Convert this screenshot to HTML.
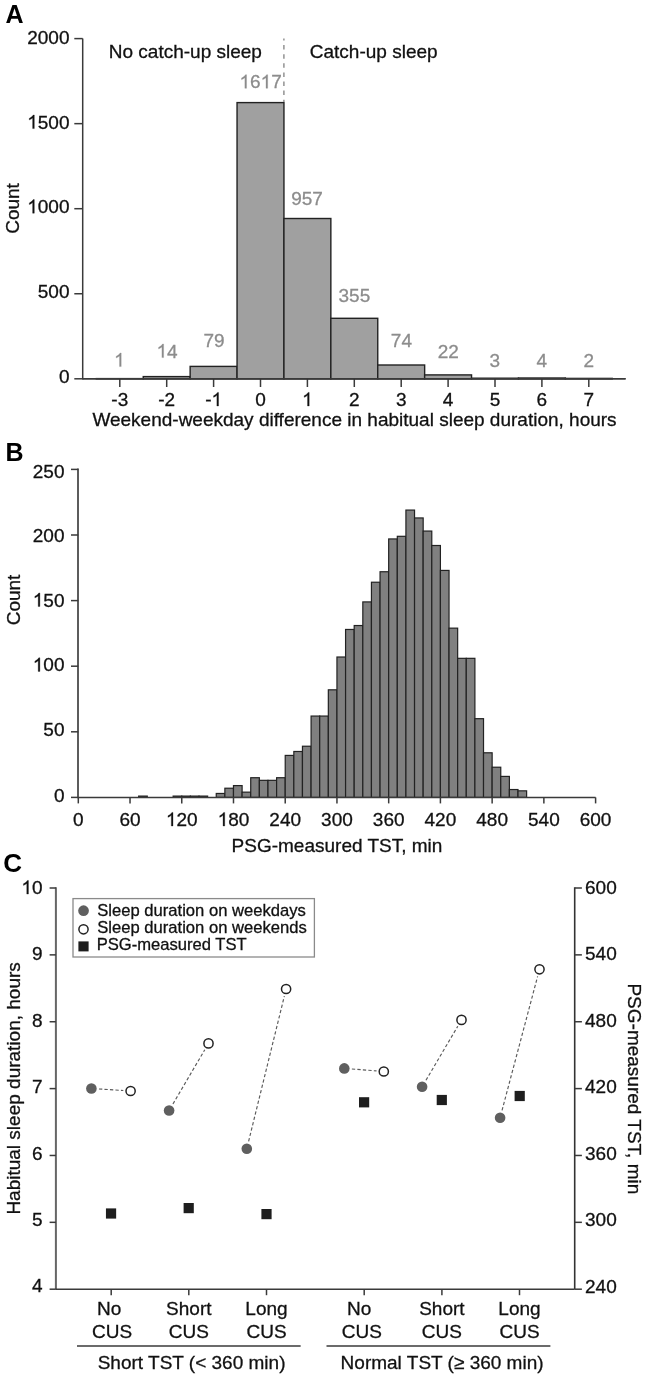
<!DOCTYPE html>
<html><head><meta charset="utf-8"><style>
html,body{margin:0;padding:0;background:#fff;}
body{width:645px;height:1378px;overflow:hidden;}
svg{display:block;font-family:"Liberation Sans", sans-serif;filter:grayscale(1);}
</style></head><body>
<svg width="645" height="1378" viewBox="0 0 645 1378">
<rect x="0" y="0" width="645" height="1378" fill="#fff"/>
<text x="5.50" y="23.00" font-size="25" text-anchor="start" fill="#000" font-weight="bold" >A</text>
<line x1="82.70" y1="38.60" x2="82.70" y2="379.55" stroke="#3a3a3a" stroke-width="1.5" />
<line x1="74.30" y1="378.80" x2="82.70" y2="378.80" stroke="#3a3a3a" stroke-width="1.5" />
<text x="69.50" y="382.65" font-size="19" text-anchor="end" fill="#111" font-weight="normal" stroke="#111" stroke-width="0.3" >0</text>
<line x1="74.30" y1="293.75" x2="82.70" y2="293.75" stroke="#3a3a3a" stroke-width="1.5" />
<text x="69.50" y="297.80" font-size="19" text-anchor="end" fill="#111" font-weight="normal" stroke="#111" stroke-width="0.3" >500</text>
<line x1="74.30" y1="208.70" x2="82.70" y2="208.70" stroke="#3a3a3a" stroke-width="1.5" />
<path transform="translate(27.23 213.20) scale(0.00928 -0.00928)" d="M763 0L583 0L583 1147Q518 1085 412 1023Q307 961 223 930L223 1104Q374 1175 487 1276Q600 1377 647 1466L763 1466Z" fill="#111" stroke="#111" stroke-width="32.3"/>
<text x="69.50" y="213.20" font-size="19" text-anchor="end" fill="#111" font-weight="normal" stroke="#111" stroke-width="0.3" > 000</text>
<line x1="74.30" y1="123.65" x2="82.70" y2="123.65" stroke="#3a3a3a" stroke-width="1.5" />
<path transform="translate(27.23 128.60) scale(0.00928 -0.00928)" d="M763 0L583 0L583 1147Q518 1085 412 1023Q307 961 223 930L223 1104Q374 1175 487 1276Q600 1377 647 1466L763 1466Z" fill="#111" stroke="#111" stroke-width="32.3"/>
<text x="69.50" y="128.60" font-size="19" text-anchor="end" fill="#111" font-weight="normal" stroke="#111" stroke-width="0.3" > 500</text>
<line x1="74.30" y1="38.60" x2="82.70" y2="38.60" stroke="#3a3a3a" stroke-width="1.5" />
<text x="69.50" y="43.70" font-size="19" text-anchor="end" fill="#111" font-weight="normal" stroke="#111" stroke-width="0.3" >2000</text>
<line x1="82.70" y1="378.80" x2="625.60" y2="378.80" stroke="#3a3a3a" stroke-width="1.5" />
<line x1="119.80" y1="378.80" x2="119.80" y2="387.00" stroke="#3a3a3a" stroke-width="1.5" />
<text x="119.80" y="406.00" font-size="19" text-anchor="middle" fill="#111" font-weight="normal" stroke="#111" stroke-width="0.3" >-3</text>
<line x1="166.70" y1="378.80" x2="166.70" y2="387.00" stroke="#3a3a3a" stroke-width="1.5" />
<text x="166.70" y="406.00" font-size="19" text-anchor="middle" fill="#111" font-weight="normal" stroke="#111" stroke-width="0.3" >-2</text>
<line x1="213.60" y1="378.80" x2="213.60" y2="387.00" stroke="#3a3a3a" stroke-width="1.5" />
<path transform="translate(211.48 406.00) scale(0.00928 -0.00928)" d="M763 0L583 0L583 1147Q518 1085 412 1023Q307 961 223 930L223 1104Q374 1175 487 1276Q600 1377 647 1466L763 1466Z" fill="#111" stroke="#111" stroke-width="32.3"/>
<text x="213.60" y="406.00" font-size="19" text-anchor="middle" fill="#111" font-weight="normal" stroke="#111" stroke-width="0.3" >- </text>
<line x1="260.50" y1="378.80" x2="260.50" y2="387.00" stroke="#3a3a3a" stroke-width="1.5" />
<text x="260.50" y="406.00" font-size="19" text-anchor="middle" fill="#111" font-weight="normal" stroke="#111" stroke-width="0.3" >0</text>
<line x1="307.40" y1="378.80" x2="307.40" y2="387.00" stroke="#3a3a3a" stroke-width="1.5" />
<path transform="translate(302.12 406.00) scale(0.00928 -0.00928)" d="M763 0L583 0L583 1147Q518 1085 412 1023Q307 961 223 930L223 1104Q374 1175 487 1276Q600 1377 647 1466L763 1466Z" fill="#111" stroke="#111" stroke-width="32.3"/>
<text x="307.40" y="406.00" font-size="19" text-anchor="middle" fill="#111" font-weight="normal" stroke="#111" stroke-width="0.3" > </text>
<line x1="354.30" y1="378.80" x2="354.30" y2="387.00" stroke="#3a3a3a" stroke-width="1.5" />
<text x="354.30" y="406.00" font-size="19" text-anchor="middle" fill="#111" font-weight="normal" stroke="#111" stroke-width="0.3" >2</text>
<line x1="401.20" y1="378.80" x2="401.20" y2="387.00" stroke="#3a3a3a" stroke-width="1.5" />
<text x="401.20" y="406.00" font-size="19" text-anchor="middle" fill="#111" font-weight="normal" stroke="#111" stroke-width="0.3" >3</text>
<line x1="448.10" y1="378.80" x2="448.10" y2="387.00" stroke="#3a3a3a" stroke-width="1.5" />
<text x="448.10" y="406.00" font-size="19" text-anchor="middle" fill="#111" font-weight="normal" stroke="#111" stroke-width="0.3" >4</text>
<line x1="495.00" y1="378.80" x2="495.00" y2="387.00" stroke="#3a3a3a" stroke-width="1.5" />
<text x="495.00" y="406.00" font-size="19" text-anchor="middle" fill="#111" font-weight="normal" stroke="#111" stroke-width="0.3" >5</text>
<line x1="541.90" y1="378.80" x2="541.90" y2="387.00" stroke="#3a3a3a" stroke-width="1.5" />
<text x="541.90" y="406.00" font-size="19" text-anchor="middle" fill="#111" font-weight="normal" stroke="#111" stroke-width="0.3" >6</text>
<line x1="588.80" y1="378.80" x2="588.80" y2="387.00" stroke="#3a3a3a" stroke-width="1.5" />
<text x="588.80" y="406.00" font-size="19" text-anchor="middle" fill="#111" font-weight="normal" stroke="#111" stroke-width="0.3" >7</text>
<text x="354.50" y="426.00" font-size="19" text-anchor="middle" fill="#111" font-weight="normal" stroke="#111" stroke-width="0.3" >Weekend-weekday difference in habitual sleep duration, hours</text>
<text x="0.00" y="0.00" font-size="19" text-anchor="middle" fill="#111" font-weight="normal" stroke="#111" stroke-width="0.3" transform="translate(19.2 208.5) rotate(-90)">Count</text>
<rect x="96.35" y="378.60" width="46.90" height="0.20" fill="#a0a0a0" stroke="#222" stroke-width="1.4"/>
<rect x="143.25" y="376.60" width="46.90" height="2.20" fill="#a0a0a0" stroke="#222" stroke-width="1.4"/>
<rect x="190.15" y="366.40" width="46.90" height="12.40" fill="#a0a0a0" stroke="#222" stroke-width="1.4"/>
<rect x="237.05" y="102.60" width="46.90" height="276.20" fill="#a0a0a0" stroke="#222" stroke-width="1.4"/>
<rect x="283.95" y="218.50" width="46.90" height="160.30" fill="#a0a0a0" stroke="#222" stroke-width="1.4"/>
<rect x="330.85" y="318.30" width="46.90" height="60.50" fill="#a0a0a0" stroke="#222" stroke-width="1.4"/>
<rect x="377.75" y="365.00" width="46.90" height="13.80" fill="#a0a0a0" stroke="#222" stroke-width="1.4"/>
<rect x="424.65" y="374.90" width="46.90" height="3.90" fill="#a0a0a0" stroke="#222" stroke-width="1.4"/>
<rect x="471.55" y="378.20" width="46.90" height="0.60" fill="#a0a0a0" stroke="#222" stroke-width="1.4"/>
<rect x="518.45" y="378.00" width="46.90" height="0.80" fill="#a0a0a0" stroke="#222" stroke-width="1.4"/>
<rect x="565.35" y="378.40" width="46.90" height="0.40" fill="#a0a0a0" stroke="#222" stroke-width="1.4"/>
<line x1="82.70" y1="378.80" x2="625.60" y2="378.80" stroke="#3a3a3a" stroke-width="1.5" />
<line x1="283.90" y1="38.50" x2="283.90" y2="102.00" stroke="#8a8a8a" stroke-width="1.4" stroke-dasharray="4.5 4.6" stroke-dashoffset="2.5"/>
<path transform="translate(114.12 366.60) scale(0.00928 -0.00928)" d="M763 0L583 0L583 1147Q518 1085 412 1023Q307 961 223 930L223 1104Q374 1175 487 1276Q600 1377 647 1466L763 1466Z" fill="#8c8c8c" stroke="#8c8c8c" stroke-width="32.3"/>
<text x="119.40" y="366.60" font-size="19" text-anchor="middle" fill="#8c8c8c" font-weight="normal" stroke="#8c8c8c" stroke-width="0.3" > </text>
<path transform="translate(156.53 357.60) scale(0.00928 -0.00928)" d="M763 0L583 0L583 1147Q518 1085 412 1023Q307 961 223 930L223 1104Q374 1175 487 1276Q600 1377 647 1466L763 1466Z" fill="#8c8c8c" stroke="#8c8c8c" stroke-width="32.3"/>
<text x="167.10" y="357.60" font-size="19" text-anchor="middle" fill="#8c8c8c" font-weight="normal" stroke="#8c8c8c" stroke-width="0.3" > 4</text>
<text x="214.00" y="346.80" font-size="19" text-anchor="middle" fill="#8c8c8c" font-weight="normal" stroke="#8c8c8c" stroke-width="0.3" >79</text>
<path transform="translate(239.47 88.30) scale(0.00928 -0.00928)" d="M763 0L583 0L583 1147Q518 1085 412 1023Q307 961 223 930L223 1104Q374 1175 487 1276Q600 1377 647 1466L763 1466Z" fill="#8c8c8c" stroke="#8c8c8c" stroke-width="32.3"/>
<path transform="translate(260.60 88.30) scale(0.00928 -0.00928)" d="M763 0L583 0L583 1147Q518 1085 412 1023Q307 961 223 930L223 1104Q374 1175 487 1276Q600 1377 647 1466L763 1466Z" fill="#8c8c8c" stroke="#8c8c8c" stroke-width="32.3"/>
<text x="260.60" y="88.30" font-size="19" text-anchor="middle" fill="#8c8c8c" font-weight="normal" stroke="#8c8c8c" stroke-width="0.3" > 6 7</text>
<text x="307.00" y="204.80" font-size="19" text-anchor="middle" fill="#8c8c8c" font-weight="normal" stroke="#8c8c8c" stroke-width="0.3" >957</text>
<text x="354.40" y="302.10" font-size="19" text-anchor="middle" fill="#8c8c8c" font-weight="normal" stroke="#8c8c8c" stroke-width="0.3" >355</text>
<text x="401.40" y="347.10" font-size="19" text-anchor="middle" fill="#8c8c8c" font-weight="normal" stroke="#8c8c8c" stroke-width="0.3" >74</text>
<text x="448.20" y="357.60" font-size="19" text-anchor="middle" fill="#8c8c8c" font-weight="normal" stroke="#8c8c8c" stroke-width="0.3" >22</text>
<text x="494.90" y="366.50" font-size="19" text-anchor="middle" fill="#8c8c8c" font-weight="normal" stroke="#8c8c8c" stroke-width="0.3" >3</text>
<text x="541.90" y="366.80" font-size="19" text-anchor="middle" fill="#8c8c8c" font-weight="normal" stroke="#8c8c8c" stroke-width="0.3" >4</text>
<text x="588.80" y="366.80" font-size="19" text-anchor="middle" fill="#8c8c8c" font-weight="normal" stroke="#8c8c8c" stroke-width="0.3" >2</text>
<text x="108.80" y="58.30" font-size="19" text-anchor="start" fill="#111" font-weight="normal" stroke="#111" stroke-width="0.3" >No catch-up sleep</text>
<text x="309.80" y="58.30" font-size="19" text-anchor="start" fill="#111" font-weight="normal" stroke="#111" stroke-width="0.3" >Catch-up sleep</text>
<text x="5.50" y="461.00" font-size="25" text-anchor="start" fill="#000" font-weight="bold" >B</text>
<rect x="138.65" y="796.09" width="8.62" height="1.31" fill="#808080" stroke="#222" stroke-width="1.2"/>
<rect x="173.14" y="796.09" width="8.62" height="1.31" fill="#808080" stroke="#222" stroke-width="1.2"/>
<rect x="181.76" y="796.09" width="8.62" height="1.31" fill="#808080" stroke="#222" stroke-width="1.2"/>
<rect x="190.38" y="796.09" width="8.62" height="1.31" fill="#808080" stroke="#222" stroke-width="1.2"/>
<rect x="199.00" y="796.09" width="8.62" height="1.31" fill="#808080" stroke="#222" stroke-width="1.2"/>
<rect x="216.25" y="793.46" width="8.62" height="3.94" fill="#808080" stroke="#222" stroke-width="1.2"/>
<rect x="224.87" y="788.22" width="8.62" height="9.18" fill="#808080" stroke="#222" stroke-width="1.2"/>
<rect x="233.49" y="785.59" width="8.62" height="11.81" fill="#808080" stroke="#222" stroke-width="1.2"/>
<rect x="242.11" y="792.15" width="8.62" height="5.25" fill="#808080" stroke="#222" stroke-width="1.2"/>
<rect x="250.73" y="777.72" width="8.62" height="19.68" fill="#808080" stroke="#222" stroke-width="1.2"/>
<rect x="259.36" y="780.34" width="8.62" height="17.06" fill="#808080" stroke="#222" stroke-width="1.2"/>
<rect x="267.98" y="780.34" width="8.62" height="17.06" fill="#808080" stroke="#222" stroke-width="1.2"/>
<rect x="276.60" y="777.72" width="8.62" height="19.68" fill="#808080" stroke="#222" stroke-width="1.2"/>
<rect x="285.22" y="755.42" width="8.62" height="41.98" fill="#808080" stroke="#222" stroke-width="1.2"/>
<rect x="293.84" y="751.48" width="8.62" height="45.92" fill="#808080" stroke="#222" stroke-width="1.2"/>
<rect x="302.46" y="746.23" width="8.62" height="51.17" fill="#808080" stroke="#222" stroke-width="1.2"/>
<rect x="311.09" y="716.06" width="8.62" height="81.34" fill="#808080" stroke="#222" stroke-width="1.2"/>
<rect x="319.71" y="716.06" width="8.62" height="81.34" fill="#808080" stroke="#222" stroke-width="1.2"/>
<rect x="328.33" y="689.82" width="8.62" height="107.58" fill="#808080" stroke="#222" stroke-width="1.2"/>
<rect x="336.95" y="657.02" width="8.62" height="140.38" fill="#808080" stroke="#222" stroke-width="1.2"/>
<rect x="345.57" y="629.46" width="8.62" height="167.94" fill="#808080" stroke="#222" stroke-width="1.2"/>
<rect x="354.19" y="625.53" width="8.62" height="171.87" fill="#808080" stroke="#222" stroke-width="1.2"/>
<rect x="362.82" y="601.91" width="8.62" height="195.49" fill="#808080" stroke="#222" stroke-width="1.2"/>
<rect x="371.44" y="582.23" width="8.62" height="215.17" fill="#808080" stroke="#222" stroke-width="1.2"/>
<rect x="380.06" y="571.74" width="8.62" height="225.66" fill="#808080" stroke="#222" stroke-width="1.2"/>
<rect x="388.68" y="538.94" width="8.62" height="258.46" fill="#808080" stroke="#222" stroke-width="1.2"/>
<rect x="397.30" y="536.31" width="8.62" height="261.09" fill="#808080" stroke="#222" stroke-width="1.2"/>
<rect x="405.92" y="510.07" width="8.62" height="287.33" fill="#808080" stroke="#222" stroke-width="1.2"/>
<rect x="414.55" y="517.94" width="8.62" height="279.46" fill="#808080" stroke="#222" stroke-width="1.2"/>
<rect x="423.17" y="531.06" width="8.62" height="266.34" fill="#808080" stroke="#222" stroke-width="1.2"/>
<rect x="431.79" y="545.50" width="8.62" height="251.90" fill="#808080" stroke="#222" stroke-width="1.2"/>
<rect x="440.41" y="570.42" width="8.62" height="226.98" fill="#808080" stroke="#222" stroke-width="1.2"/>
<rect x="449.03" y="628.15" width="8.62" height="169.25" fill="#808080" stroke="#222" stroke-width="1.2"/>
<rect x="457.65" y="658.33" width="8.62" height="139.07" fill="#808080" stroke="#222" stroke-width="1.2"/>
<rect x="466.28" y="658.33" width="8.62" height="139.07" fill="#808080" stroke="#222" stroke-width="1.2"/>
<rect x="474.90" y="718.68" width="8.62" height="78.72" fill="#808080" stroke="#222" stroke-width="1.2"/>
<rect x="483.52" y="752.79" width="8.62" height="44.61" fill="#808080" stroke="#222" stroke-width="1.2"/>
<rect x="492.14" y="767.22" width="8.62" height="30.18" fill="#808080" stroke="#222" stroke-width="1.2"/>
<rect x="500.76" y="776.41" width="8.62" height="20.99" fill="#808080" stroke="#222" stroke-width="1.2"/>
<rect x="509.38" y="789.53" width="8.62" height="7.87" fill="#808080" stroke="#222" stroke-width="1.2"/>
<rect x="518.00" y="790.84" width="8.62" height="6.56" fill="#808080" stroke="#222" stroke-width="1.2"/>
<line x1="78.00" y1="468.60" x2="78.00" y2="798.15" stroke="#5c5c5c" stroke-width="2.0" />
<line x1="71.00" y1="797.40" x2="78.30" y2="797.40" stroke="#3a3a3a" stroke-width="1.5" />
<text x="64.50" y="801.70" font-size="19" text-anchor="end" fill="#111" font-weight="normal" stroke="#111" stroke-width="0.3" >0</text>
<line x1="71.00" y1="731.80" x2="78.30" y2="731.80" stroke="#3a3a3a" stroke-width="1.5" />
<text x="64.50" y="736.40" font-size="19" text-anchor="end" fill="#111" font-weight="normal" stroke="#111" stroke-width="0.3" >50</text>
<line x1="71.00" y1="666.20" x2="78.30" y2="666.20" stroke="#3a3a3a" stroke-width="1.5" />
<path transform="translate(32.80 671.40) scale(0.00928 -0.00928)" d="M763 0L583 0L583 1147Q518 1085 412 1023Q307 961 223 930L223 1104Q374 1175 487 1276Q600 1377 647 1466L763 1466Z" fill="#111" stroke="#111" stroke-width="32.3"/>
<text x="64.50" y="671.40" font-size="19" text-anchor="end" fill="#111" font-weight="normal" stroke="#111" stroke-width="0.3" > 00</text>
<line x1="71.00" y1="600.60" x2="78.30" y2="600.60" stroke="#3a3a3a" stroke-width="1.5" />
<path transform="translate(32.80 606.55) scale(0.00928 -0.00928)" d="M763 0L583 0L583 1147Q518 1085 412 1023Q307 961 223 930L223 1104Q374 1175 487 1276Q600 1377 647 1466L763 1466Z" fill="#111" stroke="#111" stroke-width="32.3"/>
<text x="64.50" y="606.55" font-size="19" text-anchor="end" fill="#111" font-weight="normal" stroke="#111" stroke-width="0.3" > 50</text>
<line x1="71.00" y1="535.00" x2="78.30" y2="535.00" stroke="#3a3a3a" stroke-width="1.5" />
<text x="64.50" y="542.40" font-size="19" text-anchor="end" fill="#111" font-weight="normal" stroke="#111" stroke-width="0.3" >200</text>
<line x1="71.00" y1="469.40" x2="78.30" y2="469.40" stroke="#3a3a3a" stroke-width="1.5" />
<text x="64.50" y="477.55" font-size="19" text-anchor="end" fill="#111" font-weight="normal" stroke="#111" stroke-width="0.3" >250</text>
<line x1="78.30" y1="797.40" x2="595.60" y2="797.40" stroke="#3a3a3a" stroke-width="1.5" />
<line x1="78.30" y1="797.40" x2="78.30" y2="803.40" stroke="#3a3a3a" stroke-width="1.5" />
<text x="78.30" y="826.00" font-size="19" text-anchor="middle" fill="#111" font-weight="normal" stroke="#111" stroke-width="0.3" >0</text>
<line x1="130.03" y1="797.40" x2="130.03" y2="803.40" stroke="#3a3a3a" stroke-width="1.5" />
<text x="130.03" y="826.00" font-size="19" text-anchor="middle" fill="#111" font-weight="normal" stroke="#111" stroke-width="0.3" >60</text>
<line x1="181.76" y1="797.40" x2="181.76" y2="803.40" stroke="#3a3a3a" stroke-width="1.5" />
<path transform="translate(165.91 826.00) scale(0.00928 -0.00928)" d="M763 0L583 0L583 1147Q518 1085 412 1023Q307 961 223 930L223 1104Q374 1175 487 1276Q600 1377 647 1466L763 1466Z" fill="#111" stroke="#111" stroke-width="32.3"/>
<text x="181.76" y="826.00" font-size="19" text-anchor="middle" fill="#111" font-weight="normal" stroke="#111" stroke-width="0.3" > 20</text>
<line x1="233.49" y1="797.40" x2="233.49" y2="803.40" stroke="#3a3a3a" stroke-width="1.5" />
<path transform="translate(217.64 826.00) scale(0.00928 -0.00928)" d="M763 0L583 0L583 1147Q518 1085 412 1023Q307 961 223 930L223 1104Q374 1175 487 1276Q600 1377 647 1466L763 1466Z" fill="#111" stroke="#111" stroke-width="32.3"/>
<text x="233.49" y="826.00" font-size="19" text-anchor="middle" fill="#111" font-weight="normal" stroke="#111" stroke-width="0.3" > 80</text>
<line x1="285.22" y1="797.40" x2="285.22" y2="803.40" stroke="#3a3a3a" stroke-width="1.5" />
<text x="285.22" y="826.00" font-size="19" text-anchor="middle" fill="#111" font-weight="normal" stroke="#111" stroke-width="0.3" >240</text>
<line x1="336.95" y1="797.40" x2="336.95" y2="803.40" stroke="#3a3a3a" stroke-width="1.5" />
<text x="336.95" y="826.00" font-size="19" text-anchor="middle" fill="#111" font-weight="normal" stroke="#111" stroke-width="0.3" >300</text>
<line x1="388.68" y1="797.40" x2="388.68" y2="803.40" stroke="#3a3a3a" stroke-width="1.5" />
<text x="388.68" y="826.00" font-size="19" text-anchor="middle" fill="#111" font-weight="normal" stroke="#111" stroke-width="0.3" >360</text>
<line x1="440.41" y1="797.40" x2="440.41" y2="803.40" stroke="#3a3a3a" stroke-width="1.5" />
<text x="440.41" y="826.00" font-size="19" text-anchor="middle" fill="#111" font-weight="normal" stroke="#111" stroke-width="0.3" >420</text>
<line x1="492.14" y1="797.40" x2="492.14" y2="803.40" stroke="#3a3a3a" stroke-width="1.5" />
<text x="492.14" y="826.00" font-size="19" text-anchor="middle" fill="#111" font-weight="normal" stroke="#111" stroke-width="0.3" >480</text>
<line x1="543.87" y1="797.40" x2="543.87" y2="803.40" stroke="#3a3a3a" stroke-width="1.5" />
<text x="543.87" y="826.00" font-size="19" text-anchor="middle" fill="#111" font-weight="normal" stroke="#111" stroke-width="0.3" >540</text>
<line x1="595.60" y1="797.40" x2="595.60" y2="803.40" stroke="#3a3a3a" stroke-width="1.5" />
<text x="595.60" y="826.00" font-size="19" text-anchor="middle" fill="#111" font-weight="normal" stroke="#111" stroke-width="0.3" >600</text>
<text x="337.00" y="852.10" font-size="19" text-anchor="middle" fill="#111" font-weight="normal" stroke="#111" stroke-width="0.3" >PSG-measured TST, min</text>
<text x="0.00" y="0.00" font-size="19" text-anchor="middle" fill="#111" font-weight="normal" stroke="#111" stroke-width="0.3" transform="translate(20.2 600) rotate(-90)">Count</text>
<text x="3.30" y="872.10" font-size="26" text-anchor="start" fill="#000" font-weight="bold" >C</text>
<line x1="55.90" y1="887.30" x2="55.90" y2="1289.20" stroke="#666" stroke-width="2.0" />
<line x1="574.70" y1="887.30" x2="574.70" y2="1289.20" stroke="#333" stroke-width="1.6" />
<line x1="55.90" y1="1289.20" x2="574.70" y2="1289.20" stroke="#3a3a3a" stroke-width="1.5" />
<line x1="49.60" y1="1289.20" x2="55.90" y2="1289.20" stroke="#3a3a3a" stroke-width="1.5" />
<text x="42.50" y="1292.45" font-size="19" text-anchor="end" fill="#111" font-weight="normal" stroke="#111" stroke-width="0.3" >4</text>
<line x1="49.60" y1="1222.33" x2="55.90" y2="1222.33" stroke="#3a3a3a" stroke-width="1.5" />
<text x="42.50" y="1226.05" font-size="19" text-anchor="end" fill="#111" font-weight="normal" stroke="#111" stroke-width="0.3" >5</text>
<line x1="49.60" y1="1155.47" x2="55.90" y2="1155.47" stroke="#3a3a3a" stroke-width="1.5" />
<text x="42.50" y="1159.65" font-size="19" text-anchor="end" fill="#111" font-weight="normal" stroke="#111" stroke-width="0.3" >6</text>
<line x1="49.60" y1="1088.60" x2="55.90" y2="1088.60" stroke="#3a3a3a" stroke-width="1.5" />
<text x="42.50" y="1093.25" font-size="19" text-anchor="end" fill="#111" font-weight="normal" stroke="#111" stroke-width="0.3" >7</text>
<line x1="49.60" y1="1021.73" x2="55.90" y2="1021.73" stroke="#3a3a3a" stroke-width="1.5" />
<text x="42.50" y="1026.85" font-size="19" text-anchor="end" fill="#111" font-weight="normal" stroke="#111" stroke-width="0.3" >8</text>
<line x1="49.60" y1="954.87" x2="55.90" y2="954.87" stroke="#3a3a3a" stroke-width="1.5" />
<text x="42.50" y="960.45" font-size="19" text-anchor="end" fill="#111" font-weight="normal" stroke="#111" stroke-width="0.3" >9</text>
<line x1="49.60" y1="888.00" x2="55.90" y2="888.00" stroke="#3a3a3a" stroke-width="1.5" />
<path transform="translate(21.37 894.05) scale(0.00928 -0.00928)" d="M763 0L583 0L583 1147Q518 1085 412 1023Q307 961 223 930L223 1104Q374 1175 487 1276Q600 1377 647 1466L763 1466Z" fill="#111" stroke="#111" stroke-width="32.3"/>
<text x="42.50" y="894.05" font-size="19" text-anchor="end" fill="#111" font-weight="normal" stroke="#111" stroke-width="0.3" > 0</text>
<line x1="574.70" y1="1289.20" x2="581.90" y2="1289.20" stroke="#3a3a3a" stroke-width="1.5" />
<text x="585.00" y="1292.71" font-size="19" text-anchor="start" fill="#111" font-weight="normal" stroke="#111" stroke-width="0.3" >240</text>
<line x1="574.70" y1="1222.33" x2="581.90" y2="1222.33" stroke="#3a3a3a" stroke-width="1.5" />
<text x="585.00" y="1226.25" font-size="19" text-anchor="start" fill="#111" font-weight="normal" stroke="#111" stroke-width="0.3" >300</text>
<line x1="574.70" y1="1155.47" x2="581.90" y2="1155.47" stroke="#3a3a3a" stroke-width="1.5" />
<text x="585.00" y="1159.79" font-size="19" text-anchor="start" fill="#111" font-weight="normal" stroke="#111" stroke-width="0.3" >360</text>
<line x1="574.70" y1="1088.60" x2="581.90" y2="1088.60" stroke="#3a3a3a" stroke-width="1.5" />
<text x="585.00" y="1093.33" font-size="19" text-anchor="start" fill="#111" font-weight="normal" stroke="#111" stroke-width="0.3" >420</text>
<line x1="574.70" y1="1021.73" x2="581.90" y2="1021.73" stroke="#3a3a3a" stroke-width="1.5" />
<text x="585.00" y="1026.87" font-size="19" text-anchor="start" fill="#111" font-weight="normal" stroke="#111" stroke-width="0.3" >480</text>
<line x1="574.70" y1="954.87" x2="581.90" y2="954.87" stroke="#3a3a3a" stroke-width="1.5" />
<text x="585.00" y="960.41" font-size="19" text-anchor="start" fill="#111" font-weight="normal" stroke="#111" stroke-width="0.3" >540</text>
<line x1="574.70" y1="888.00" x2="581.90" y2="888.00" stroke="#3a3a3a" stroke-width="1.5" />
<text x="585.00" y="893.95" font-size="19" text-anchor="start" fill="#111" font-weight="normal" stroke="#111" stroke-width="0.3" >600</text>
<text x="0.00" y="0.00" font-size="19" text-anchor="middle" fill="#111" font-weight="normal" stroke="#111" stroke-width="0.3" transform="translate(20.0 1088.4) rotate(-90)">Habitual sleep duration, hours</text>
<text x="0.00" y="0.00" font-size="19" text-anchor="middle" fill="#111" font-weight="normal" stroke="#111" stroke-width="0.3" transform="translate(627.8 1088.85) rotate(90)">PSG-measured TST, min</text>
<line x1="111.20" y1="1289.20" x2="111.20" y2="1295.20" stroke="#3a3a3a" stroke-width="1.5" />
<text x="109.20" y="1315.30" font-size="19" text-anchor="middle" fill="#111" font-weight="normal" stroke="#111" stroke-width="0.3" >No</text>
<text x="112.10" y="1337.70" font-size="19" text-anchor="middle" fill="#111" font-weight="normal" stroke="#111" stroke-width="0.3" >CUS</text>
<line x1="188.80" y1="1289.20" x2="188.80" y2="1295.20" stroke="#3a3a3a" stroke-width="1.5" />
<text x="188.80" y="1315.30" font-size="19" text-anchor="middle" fill="#111" font-weight="normal" stroke="#111" stroke-width="0.3" >Short</text>
<text x="188.80" y="1337.70" font-size="19" text-anchor="middle" fill="#111" font-weight="normal" stroke="#111" stroke-width="0.3" >CUS</text>
<line x1="266.50" y1="1289.20" x2="266.50" y2="1295.20" stroke="#3a3a3a" stroke-width="1.5" />
<text x="266.50" y="1315.30" font-size="19" text-anchor="middle" fill="#111" font-weight="normal" stroke="#111" stroke-width="0.3" >Long</text>
<text x="266.50" y="1337.70" font-size="19" text-anchor="middle" fill="#111" font-weight="normal" stroke="#111" stroke-width="0.3" >CUS</text>
<line x1="364.20" y1="1289.20" x2="364.20" y2="1295.20" stroke="#3a3a3a" stroke-width="1.5" />
<text x="359.10" y="1315.30" font-size="19" text-anchor="middle" fill="#111" font-weight="normal" stroke="#111" stroke-width="0.3" >No</text>
<text x="361.90" y="1337.70" font-size="19" text-anchor="middle" fill="#111" font-weight="normal" stroke="#111" stroke-width="0.3" >CUS</text>
<line x1="441.90" y1="1289.20" x2="441.90" y2="1295.20" stroke="#3a3a3a" stroke-width="1.5" />
<text x="441.90" y="1315.30" font-size="19" text-anchor="middle" fill="#111" font-weight="normal" stroke="#111" stroke-width="0.3" >Short</text>
<text x="441.90" y="1337.70" font-size="19" text-anchor="middle" fill="#111" font-weight="normal" stroke="#111" stroke-width="0.3" >CUS</text>
<line x1="519.50" y1="1289.20" x2="519.50" y2="1295.20" stroke="#3a3a3a" stroke-width="1.5" />
<text x="519.50" y="1315.30" font-size="19" text-anchor="middle" fill="#111" font-weight="normal" stroke="#111" stroke-width="0.3" >Long</text>
<text x="519.50" y="1337.70" font-size="19" text-anchor="middle" fill="#111" font-weight="normal" stroke="#111" stroke-width="0.3" >CUS</text>
<line x1="77.00" y1="1346.00" x2="300.65" y2="1346.00" stroke="#3a3a3a" stroke-width="1.5" />
<line x1="326.50" y1="1346.00" x2="550.40" y2="1346.00" stroke="#3a3a3a" stroke-width="1.5" />
<text x="191.60" y="1369.20" font-size="19" text-anchor="middle" fill="#111" font-weight="normal" stroke="#111" stroke-width="0.3" >Short TST (&lt; 360 min)</text>
<text x="442.10" y="1369.20" font-size="19" text-anchor="middle" fill="#111" font-weight="normal" stroke="#111" stroke-width="0.3" >Normal TST (≥ 360 min)</text>
<rect x="73.00" y="898.60" width="241.40" height="58.40" fill="#fff" stroke="#8a8a8a" stroke-width="1.3"/>
<circle cx="83.55" cy="910.7" r="5.35" fill="#5f5f5f"/>
<circle cx="83.5" cy="929.3" r="4.6" fill="#fff" stroke="#222" stroke-width="1.5"/>
<rect x="78.40" y="941.40" width="10.20" height="10.00" fill="#1e1e1e"/>
<text x="97.30" y="915.60" font-size="16.6" text-anchor="start" fill="#111" font-weight="normal" stroke="#111" stroke-width="0.3" >Sleep duration on weekdays</text>
<text x="97.30" y="932.50" font-size="16.6" text-anchor="start" fill="#111" font-weight="normal" stroke="#111" stroke-width="0.3" >Sleep duration on weekends</text>
<text x="96.70" y="950.00" font-size="16.6" text-anchor="start" fill="#111" font-weight="normal" stroke="#111" stroke-width="0.3" >PSG-measured TST</text>
<line x1="98.98" y1="1088.98" x2="123.31" y2="1090.54" stroke="#5a5a5a" stroke-width="1.15" stroke-dasharray="3.3 2.2"/>
<line x1="172.95" y1="1103.95" x2="204.80" y2="1049.70" stroke="#5a5a5a" stroke-width="1.15" stroke-dasharray="3.3 2.2"/>
<line x1="248.62" y1="1141.32" x2="284.36" y2="996.09" stroke="#5a5a5a" stroke-width="1.15" stroke-dasharray="3.3 2.2"/>
<line x1="351.88" y1="1068.99" x2="376.52" y2="1070.93" stroke="#5a5a5a" stroke-width="1.15" stroke-dasharray="3.3 2.2"/>
<line x1="425.96" y1="1080.25" x2="457.80" y2="1026.19" stroke="#5a5a5a" stroke-width="1.15" stroke-dasharray="3.3 2.2"/>
<line x1="502.05" y1="1110.35" x2="537.63" y2="976.36" stroke="#5a5a5a" stroke-width="1.15" stroke-dasharray="3.3 2.2"/>
<circle cx="91.4" cy="1088.5" r="5.3" fill="#5f5f5f"/>
<circle cx="169.1" cy="1110.5" r="5.3" fill="#5f5f5f"/>
<circle cx="246.8" cy="1148.7" r="5.3" fill="#5f5f5f"/>
<circle cx="344.3" cy="1068.4" r="5.3" fill="#5f5f5f"/>
<circle cx="422.1" cy="1086.8" r="5.3" fill="#5f5f5f"/>
<circle cx="500.1" cy="1117.7" r="5.3" fill="#5f5f5f"/>
<circle cx="130.6" cy="1091.0" r="4.6" fill="#fff" stroke="#222" stroke-width="1.5"/>
<circle cx="208.5" cy="1043.4" r="4.6" fill="#fff" stroke="#222" stroke-width="1.5"/>
<circle cx="286.1" cy="989.0" r="4.6" fill="#fff" stroke="#222" stroke-width="1.5"/>
<circle cx="383.8" cy="1071.5" r="4.6" fill="#fff" stroke="#222" stroke-width="1.5"/>
<circle cx="461.5" cy="1019.9" r="4.6" fill="#fff" stroke="#222" stroke-width="1.5"/>
<circle cx="539.5" cy="969.3" r="4.6" fill="#fff" stroke="#222" stroke-width="1.5"/>
<rect x="105.95" y="1208.40" width="10.20" height="10.20" fill="#1e1e1e"/>
<rect x="183.60" y="1203.00" width="10.20" height="10.20" fill="#1e1e1e"/>
<rect x="261.40" y="1209.00" width="10.20" height="10.20" fill="#1e1e1e"/>
<rect x="359.00" y="1097.20" width="10.20" height="10.20" fill="#1e1e1e"/>
<rect x="436.70" y="1094.90" width="10.20" height="10.20" fill="#1e1e1e"/>
<rect x="514.60" y="1090.90" width="10.20" height="10.20" fill="#1e1e1e"/>
</svg>
</body></html>
